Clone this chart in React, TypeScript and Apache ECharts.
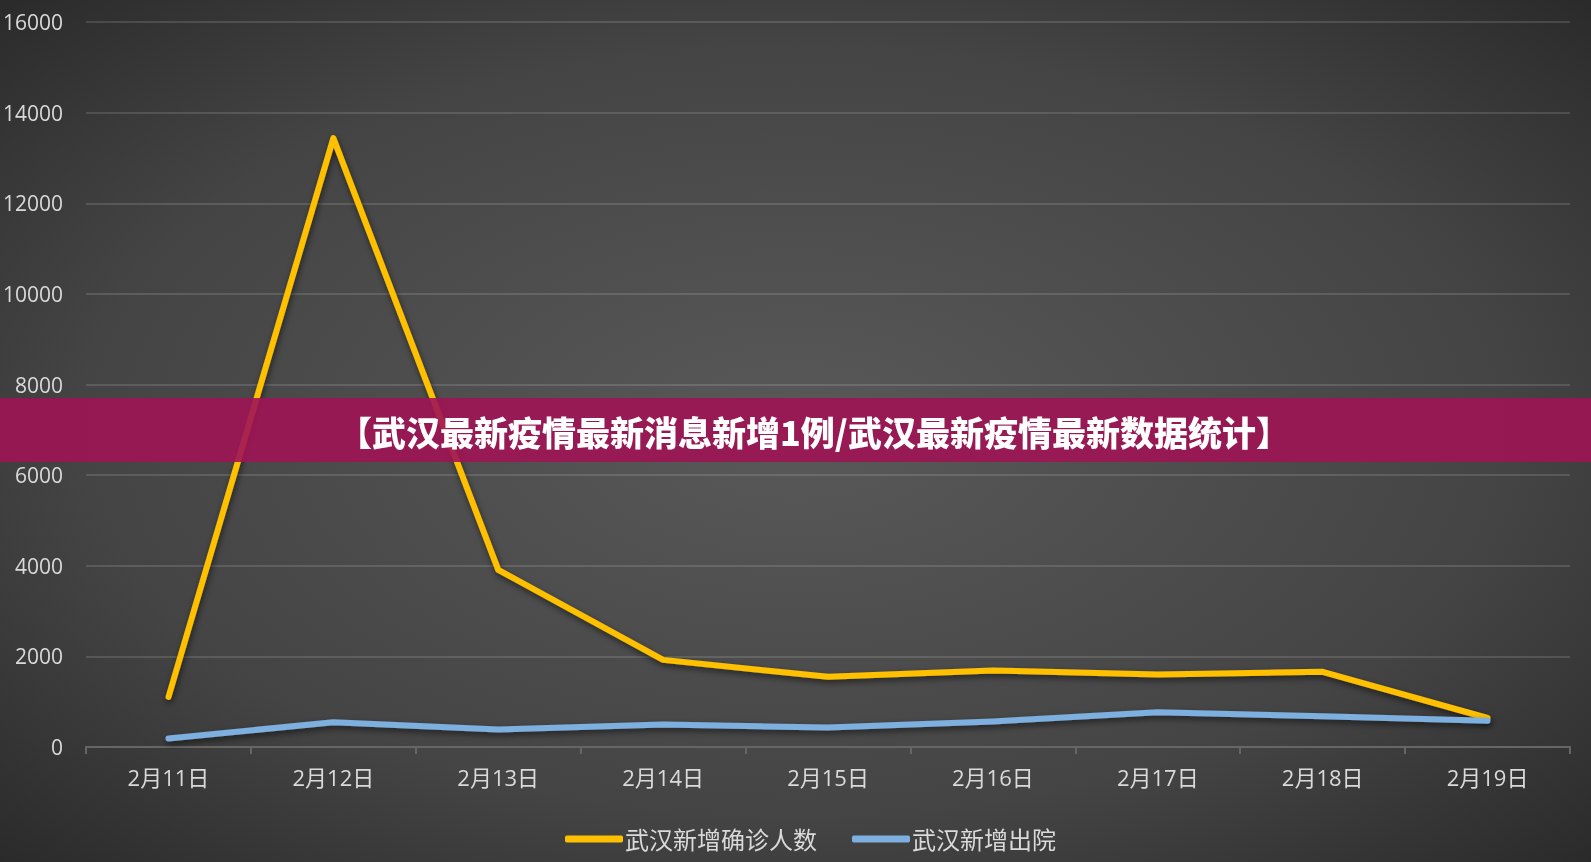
import React, { useEffect, useRef } from "react";
import * as echarts from "echarts";

const categories = ["2月11日", "2月12日", "2月13日", "2月14日", "2月15日", "2月16日", "2月17日", "2月18日", "2月19日"];
const confirmedName = "武汉新增确诊人数";
const dischargedName = "武汉新增出院";
const confirmed = [1104, 13436, 3910, 1923, 1548, 1690, 1600, 1660, 640];
const discharged = [190, 545, 385, 495, 430, 565, 765, 680, 580];
const yTicks = { min: 0, max: 16000, interval: 2000 };
const bannerText = "【武汉最新疫情最新消息新增1例/武汉最新疫情最新数据统计】";

const FONT = "'Open Sans', 'Noto Sans CJK SC', sans-serif";

export default function App() {
  const ref = useRef<HTMLDivElement>(null);
  useEffect(() => {
    document.body.style.margin = "0";
    const chart = echarts.init(ref.current!, null, { renderer: "svg" });
    const shadow = { shadowBlur: 6, shadowColor: "rgba(0,0,0,0.55)", shadowOffsetY: 3, shadowOffsetX: 1 };
    chart.setOption({
      animation: false,
      backgroundColor: {
        type: "radial",
        x: 0.5,
        y: 0.5,
        r: 0.75,
        colorStops: [
          { offset: 0, color: "#595959" },
          { offset: 0.6, color: "#444444" },
          { offset: 1, color: "#262626" },
        ],
      },
      grid: { left: 85, right: 21, top: 22, bottom: 115, containLabel: false },
      legend: {
        left: 560,
        top: 822,
        itemWidth: 58,
        itemHeight: 7,
        itemGap: 35,
        icon: "roundRect",
        textStyle: { color: "#dadada", fontSize: 24, fontFamily: FONT, padding: [0, 0, 0, -3] },
        data: [confirmedName, dischargedName],
      },
      xAxis: {
        type: "category",
        data: categories,
        boundaryGap: true,
        axisLine: { lineStyle: { color: "#666666", width: 2 } },
        axisTick: { show: true, length: 7, lineStyle: { color: "#666666", width: 2 } },
        axisLabel: { color: "#dadada", fontSize: 22, fontFamily: FONT, margin: 19 },
      },
      yAxis: {
        type: "value",
        min: yTicks.min,
        max: yTicks.max,
        interval: yTicks.interval,
        axisLine: { show: false },
        axisTick: { show: false },
        axisLabel: {
          color: "#dadada",
          fontSize: 21,
          fontFamily: FONT,
          margin: 23,
          formatter: (v: number) => String(v),
        },
        splitLine: { lineStyle: { color: "rgba(255,255,255,0.13)", width: 2 } },
      },
      series: [
        {
          name: confirmedName,
          type: "line",
          data: confirmed,
          symbol: "none",
          color: "#FFC000",
          lineStyle: { color: "#FFC000", width: 6, cap: "round", join: "round", ...shadow },
        },
        {
          name: dischargedName,
          type: "line",
          data: discharged,
          symbol: "none",
          color: "#7DAFDF",
          lineStyle: { color: "#7DAFDF", width: 6, cap: "round", join: "round", ...shadow },
        },
      ],
      graphic: [
        {
          type: "rect",
          left: 0,
          top: 398,
          shape: { width: 1591, height: 64 },
          style: { fill: "rgba(160,20,85,0.9)" },
          z: 100,
        },
        {
          type: "text",
          x: 814,
          y: 431,
          style: {
            text: bannerText,
            fill: "#ffffff",
            font: "900 34px 'Noto Sans CJK SC', sans-serif",
            textAlign: "center",
            textVerticalAlign: "middle",
          },
          z: 101,
        },
      ],
    });
    return () => chart.dispose();
  }, []);
  return <div ref={ref} style={{ position: "fixed", left: 0, top: 0, width: 1591, height: 862 }} />;
}
